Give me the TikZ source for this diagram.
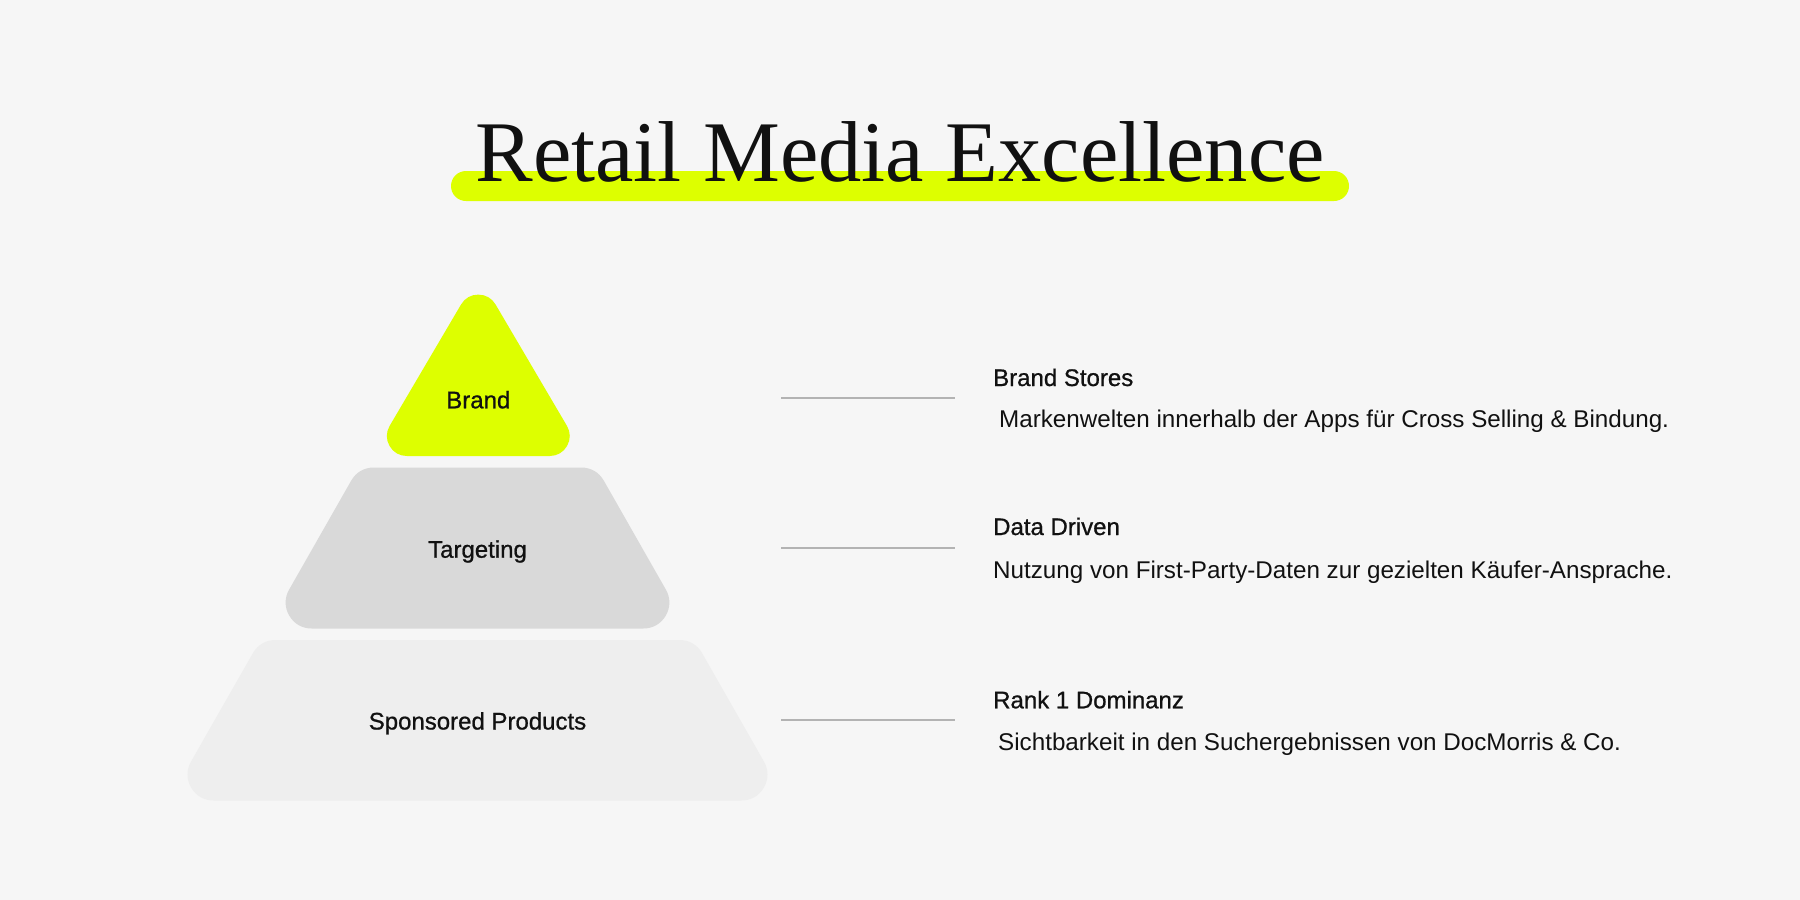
\documentclass[tikz,border=0pt]{standalone}
\usepackage{fontspec}
\setmainfont{Liberation Sans}
\newfontfamily\titlefont{Liberation Serif}
\newfontfamily\medfont{Liberation Sans}[FakeBold=0.8]
\definecolor{bg}{HTML}{F6F6F6}
\definecolor{lime}{HTML}{DDFF00}
\definecolor{tgray}{HTML}{D9D9D9}
\definecolor{sgray}{HTML}{EEEEEE}
\definecolor{linegray}{HTML}{B3B3B3}
\definecolor{ink}{HTML}{111111}
\tikzset{
  layer/.style={line width=52pt, line join=round},
  lbl/.style={anchor=base, inner sep=0pt, text=ink, font=\medfont\fontsize{24}{28}\selectfont},
  head/.style={anchor=base west, inner sep=0pt, text=ink, font=\medfont\fontsize{24}{28}\selectfont},
  desc/.style={anchor=base west, inner sep=0pt, text=ink, font=\fontsize{24.2}{28}\selectfont},
  conn/.style={draw=linegray, line width=2pt},
  bar/.style={fill=lime, rounded corners=15pt, minimum width=898pt, minimum height=30pt, inner sep=0pt}
}
\begin{document}
\begin{tikzpicture}[x=1pt,y=-1pt]
\fill[bg] (0,0) rectangle (1800,900);
\useasboundingbox (0,0) rectangle (1800,900);
% title
\node[bar] (bar) at (900,186) {};
\node[anchor=base, inner sep=0pt, text=ink, font=\titlefont\fontsize{86.4}{90}\selectfont] (title) at (900,181.7) {Retail Media Excellence};
% pyramid
\filldraw[layer, line width=40pt, lime] (478.3,314.6) -- (549.7,436) -- (406.9,436) -- cycle;
\filldraw[layer, tgray] (373.8,493.5) -- (581.2,493.5) -- (643.3,602.5) -- (311.7,602.5) -- cycle;
\filldraw[layer, sgray] (275.5,666) -- (679.5,666) -- (741.4,774.5) -- (213.6,774.5) -- cycle;
\node[lbl] (brand) at (478.3,408.3) {Brand};
\node[lbl] (targeting) at (477.5,557.7) {Targeting};
\node[lbl] (sponsored) at (477.5,729.5) {Sponsored Products};
% connectors
\coordinate (c1a) at (781,397.7); \coordinate (c1b) at (955,397.7);
\coordinate (c2a) at (781,547.7); \coordinate (c2b) at (955,547.7);
\coordinate (c3a) at (781,719.8); \coordinate (c3b) at (955,719.8);
\draw[conn] (c1a) -- (c1b);
\draw[conn] (c2a) -- (c2b);
\draw[conn] (c3a) -- (c3b);
% texts
\node[head] (h1) at (993,386) {Brand Stores};
\node[desc] (d1) at (999,427.7) {Markenwelten innerhalb der Apps für Cross Selling \& Bindung.};
\node[head] (h2) at (993,535) {Data Driven};
\node[desc] (d2) at (993,578.3) {Nutzung von First-Party-Daten zur gezielten Käufer-Ansprache.};
\node[head] (h3) at (993,708.3) {Rank 1 Dominanz};
\node[desc] (d3) at (998,750) {Sichtbarkeit in den Suchergebnissen von DocMorris \& Co.};
\end{tikzpicture}
\end{document}
